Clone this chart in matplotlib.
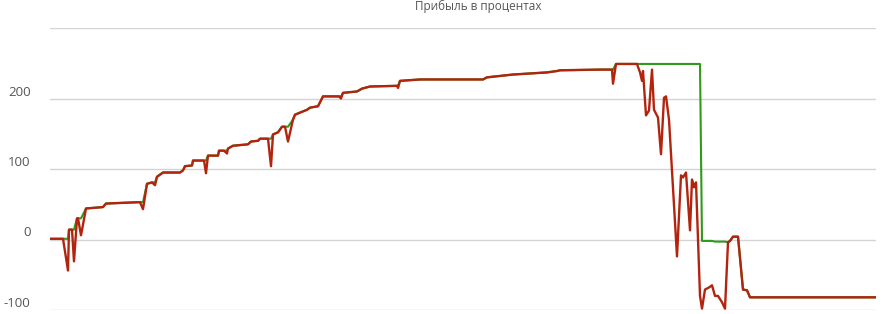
import matplotlib.pyplot as plt

plt.rcParams['font.family'] = ['Open Sans', 'DejaVu Sans']

# trade number (x) and profit in percent
trades = [1, 13, 18, 19, 22, 24, 27, 28, 31, 36, 53, 56, 90, 93, 97, 102, 105, 107,
          113, 130, 133, 135, 142, 143, 154, 156, 158, 168, 169, 174, 177, 178, 183,
          198, 201, 208, 210, 218, 221, 223, 228, 232, 235, 238, 243, 245, 250, 257,
          260, 268, 273, 289, 291, 293, 307, 312, 320, 347, 348, 350, 370, 433, 437,
          463, 497, 507, 510, 550, 562, 563, 566, 587, 590, 592, 593, 596, 599, 602,
          604, 608, 611, 614, 616, 619, 627, 631, 633, 636, 640, 642, 644, 646, 650,
          652, 655, 659, 662, 665, 668, 672, 675, 678, 680, 683, 688, 693, 697, 700,
          826]

profit = [1, 1, -44, 14, 14, -31, 30, 30, 6, 44, 46, 51, 53, 43, 79, 81, 77, 89,
          95, 95, 98, 104, 105, 112, 112, 94, 119, 119, 126, 126, 122, 129, 133,
          135, 139, 140, 143, 143, 104, 149, 152, 160, 160, 139, 170, 177, 180, 184,
          187, 189, 203, 203, 200, 208, 210, 214, 217, 218, 215, 225, 227, 227, 230,
          234, 237, 239, 240, 241, 241, 221, 249, 249, 237, 225, 239, 176, 183, 241,
          184, 173, 121, 201, 203, 170, -24, 91, 88, 95, 13, 85, 74, 81, -80,
          -98, -71, -68, -65, -80, -80, -89, -98, -4, -2, 4, 4, -71, -72, -82,
          -82]

# upper (green) curve
peak = [1, 1, 1, 14, 14, 14, 30, 30, 30, 44, 46, 51, 53, 53, 79, 81, 81, 89,
        95, 95, 98, 104, 105, 112, 112, 112, 119, 119, 126, 126, 126, 129, 133,
        135, 139, 140, 143, 143, 143, 149, 152, 160, 160, 160, 170, 177, 180, 184,
        187, 189, 203, 203, 203, 208, 210, 214, 217, 218, 218, 225, 227, 227, 230,
        234, 237, 239, 240, 241, 241, 241, 249, 249, 249, 249, 249, 249, 249, 249,
        249, 249, 249, 249, 249, 249, 249, 249, 249, 249, 249, 249, 249, 249, 249,
        -2, -2, -2, -2, -3, -3, -3, -3, -4, -2, 4, 4, -71, -72, -82,
        -82]

y_ticks = [-100, 0, 100, 200, 300]
y_labels = ['-100', '0', '100', '200', '']

fig = plt.figure(figsize=(8.88, 3.14), dpi=100)
ax = fig.add_axes([50 / 888, 4 / 314, 826 / 888, 282 / 314])

ax.plot(trades, peak, color='#2f9a1c', linewidth=1.5, zorder=2)
ax.plot(trades, profit, color='#b3240f', linewidth=1.7, zorder=3)

ax.set_xlim(0, 826)
ax.set_ylim(-100, 300)
ax.set_xticks([])
ax.set_yticks(y_ticks, labels=y_labels)
ax.tick_params(axis='y', length=0, pad=14, labelsize=9.5, labelcolor='#555555')
for lbl in ax.get_yticklabels():
    lbl.set_va('bottom')
ax.grid(axis='y', color='#d4d4d4', linewidth=1)
ax.set_axisbelow(True)
for s in ax.spines.values():
    s.set_visible(False)

fig.text(478 / 888, 1 - 6 / 314, 'Прибыль в процентах', ha='center', va='center',
         fontsize=8.5, color='#555555')

fig.savefig('out.png', dpi=100)
